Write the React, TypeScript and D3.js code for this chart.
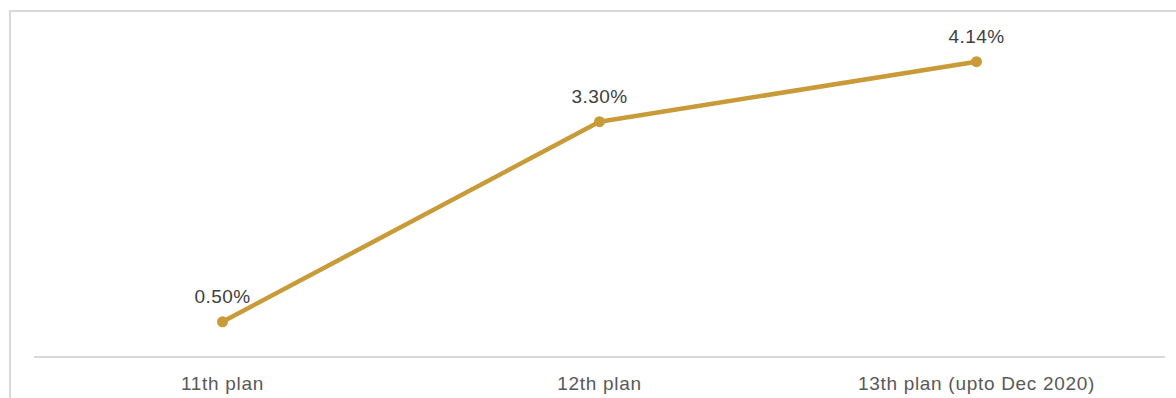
import React from "react";
import * as d3 from "d3";

const categories = ["11th plan", "12th plan", "13th plan (upto Dec 2020)"];
const values = [0.5, 3.3, 4.14];
const valueLabels = ["0.50%", "3.30%", "4.14%"];

const W = 1176;
const H = 398;

export default function App() {
  const x = d3.scaleBand<string>().domain(categories).range([34, 1165]);
  const y = d3.scaleLinear().domain([0, 4.5]).range([357.5, 36]);
  const line = d3
    .line<number>()
    .x((_, i) => (x(categories[i]) ?? 0) + x.bandwidth() / 2)
    .y((d) => y(d));
  const color = "#C99A38";
  const font = "'Liberation Sans', Arial, sans-serif";
  return (
    <svg
      width={W}
      height={H}
      style={{ position: "absolute", left: 0, top: 0, background: "#fff" }}
    >
      <rect x={10} y={11} width={1180} height={420} fill="none" stroke="#d9d9d9" strokeWidth={2} />
      <line x1={34} x2={1165} y1={357} y2={357} stroke="#d9d9d9" strokeWidth={2} />
      <path d={line(values) ?? ""} fill="none" stroke={color} strokeWidth={4.5} strokeLinejoin="round" />
      {values.map((v, i) => {
        const cx = (x(categories[i]) ?? 0) + x.bandwidth() / 2;
        return (
          <g key={i}>
            <circle cx={cx} cy={y(v)} r={5.5} fill={color} />
            <text
              x={cx}
              y={y(v) - 19}
              textAnchor="middle"
              fontFamily={font}
              fontSize={19}
              letterSpacing={0.4}
              fill="#404040"
            >
              {valueLabels[i]}
            </text>
          </g>
        );
      })}
      {categories.map((c) => (
        <text
          key={c}
          x={(x(c) ?? 0) + x.bandwidth() / 2}
          y={390}
          textAnchor="middle"
          fontFamily={font}
          fontSize={19}
          letterSpacing={0.7}
          fill="#595959"
        >
          {c}
        </text>
      ))}
    </svg>
  );
}
